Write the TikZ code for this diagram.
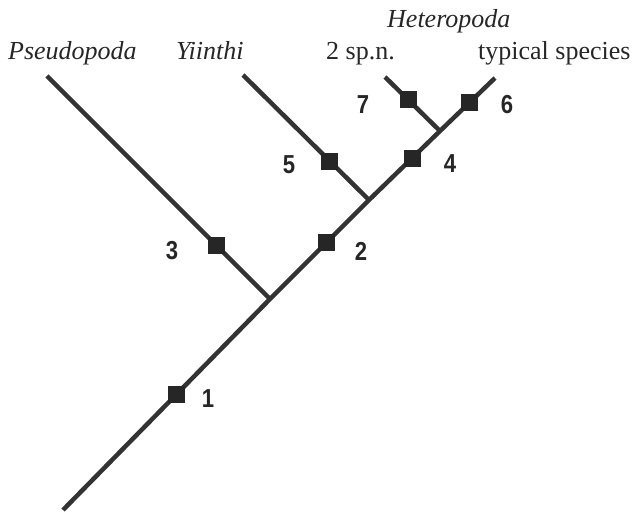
\documentclass[tikz,border=0pt]{standalone}
\usepackage{fontspec}
\setmainfont{Liberation Serif}
\newfontfamily\numfont{Liberation Sans}
\definecolor{branchcol}{HTML}{333333}
\definecolor{boxcol}{HTML}{262626}
\newcommand{\narrownum}[1]{\scalebox{0.85}[1]{#1}}
\begin{document}
\begin{tikzpicture}[x=1pt,y=-1pt,
  branch/.style={draw=branchcol,line width=4.5pt},
  sq/.style={rectangle,fill=boxcol,minimum size=17pt,inner sep=0pt},
  num/.style={font=\numfont\bfseries\fontsize{26}{30}\selectfont,inner sep=0pt,text=boxcol},
  taxon/.style={font=\fontsize{26}{30}\selectfont,anchor=base west,inner sep=0pt,text=black!85}]
\useasboundingbox (0,0) rectangle (635,513);
% junctions and tips
\coordinate (R) at (63,510);
\coordinate (A) at (270,299);
\coordinate (B) at (369,200);
\coordinate (C) at (440,131);
\coordinate (T) at (495,78);
\coordinate (P) at (47,76);
\coordinate (Y) at (243,75);
\coordinate (S) at (385,77);
% branches
\draw[branch] (R) -- (A) -- (B) -- (C) -- (T);
\draw[branch] (A) -- (P);
\draw[branch] (B) -- (Y);
\draw[branch] (C) -- (S);
% character boxes
\path (R) -- (A) node[sq,pos=0.546] (s1) {};
\path (A) -- (B) node[sq,pos=0.566] (s2) {};
\path (A) -- (P) node[sq,pos=0.242] (s3) {};
\path (B) -- (C) node[sq,pos=0.606] (s4) {};
\path (B) -- (Y) node[sq,pos=0.31] (s5) {};
\path (C) -- (T) node[sq,pos=0.545] (s6) {};
\path (C) -- (S) node[sq,pos=0.58] (s7) {};
% numbers
\node[num] (n1) at (208,399) {\narrownum{1}};
\node[num] (n2) at (361,251) {\narrownum{2}};
\node[num] (n3) at (172,251) {\narrownum{3}};
\node[num] (n4) at (450,164) {\narrownum{4}};
\node[num] (n5) at (289,165) {\narrownum{5}};
\node[num] (n6) at (507,105) {\narrownum{6}};
\node[num] (n7) at (363,105) {\narrownum{7}};
% taxa
\node[taxon] (tP) at (8,60) {\itshape Pseudopoda};
\node[taxon] (tY) at (176,60) {\itshape Yiinthi};
\node[taxon] (tH) at (387,28) {\itshape Heteropoda};
\node[taxon] (tS) at (326,60) {2 sp.n.};
\node[taxon] (tT) at (478,60) {typical species};
\end{tikzpicture}
\end{document}
